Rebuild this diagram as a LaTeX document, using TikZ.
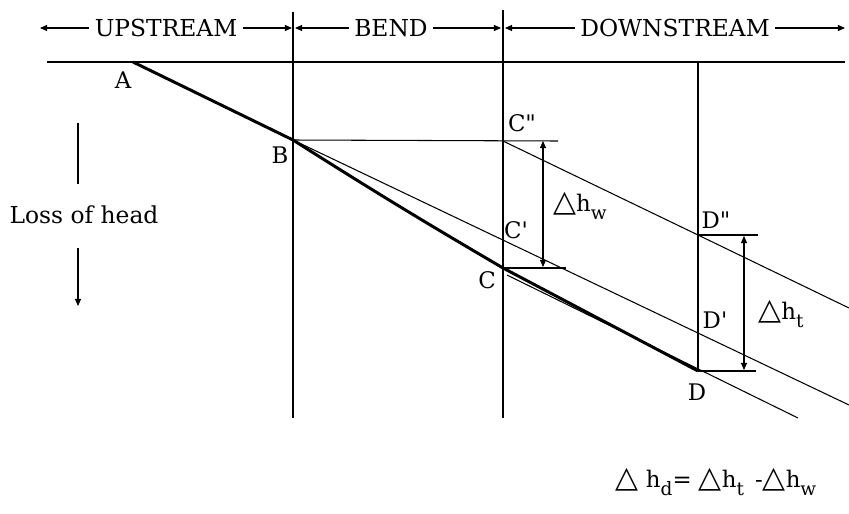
\documentclass[tikz,border=0pt]{standalone}
\usepackage{fontspec}
\setmainfont{DejaVu Serif}
\newfontfamily\trifont{DejaVu Sans}
\newcommand{\tri}{{\trifont\fontsize{17}{17}\selectfont △}}
\newcommand{\lowsub}[1]{\raisebox{-0.7ex}{\fontsize{10.5}{11}\selectfont #1}}
\usetikzlibrary{arrows.meta, positioning}

\begin{document}
\begin{tikzpicture}[
  x=0.02cm, y=-0.02cm,
  >={Triangle[length=4pt, width=3.4pt]},
  thinline/.style={line width=0.6pt},
  headline/.style={line width=1.7pt, line join=round},
  dimarrow/.style={line width=0.6pt, ->},
  seg/.style={font=\fontsize{13.3}{16}\selectfont, inner sep=3pt},
  ptlabel/.style={font=\fontsize{13}{15}\selectfont, inner sep=0pt},
]

% Page frame, same size as the reference
\useasboundingbox (0,0) rectangle (849,514);

% ============================================================
% Points on the energy line
% ============================================================
\coordinate (A) at (133,62);
\coordinate (B) at (293,140);
\coordinate (C) at (503,268);
\coordinate (D) at (698,371);
\coordinate (Cpp) at (503,141);
\coordinate (Dpp) at (698,235);

% ============================================================
% Reach headings across the top
% ============================================================
\node[seg] (up) at (166,28) {UPSTREAM};
\node[seg] (bend) at (391,28) {BEND};
\node[seg] (down) at (675,28) {DOWNSTREAM};
\coordinate (upL) at (40,28);
\coordinate (upR) at (292,28);
\coordinate (bendL) at (295,28);
\coordinate (bendR) at (501,28);
\coordinate (downL) at (505,28);
\coordinate (downR) at (845,28);
\draw[dimarrow] (up.west) -- (upL);
\draw[dimarrow] (up.east) -- (upR);
\draw[dimarrow] (bend.west) -- (bendL);
\draw[dimarrow] (bend.east) -- (bendR);
\draw[dimarrow] (down.west) -- (downL);
\draw[dimarrow] (down.east) -- (downR);

% Datum and section lines
\coordinate (topL) at (47,62);
\coordinate (topR) at (845,62);
\draw[thinline] (topL) -- (topR);
\coordinate (secBt) at (293,12);
\coordinate (secBb) at (293,418);
\coordinate (secCt) at (503,10);
\coordinate (secCb) at (503,418);
\coordinate (secDt) at (698,62);
\draw[thinline] (secBt) -- (secBb);
\draw[thinline] (secCt) -- (secCb);
\draw[thinline] (secDt) -- (D);

% ============================================================
% Head lines
% ============================================================
\draw[headline] (A) -- (B) to[bend right=1] (C) -- (D);

% straight continuation from B through C' and D'
\coordinate (bEnd) at (849,405);
\draw[thinline] (B) -- (bEnd);
% line from C'' through D''
\coordinate (cEnd) at (849,308);
\draw[thinline] (Cpp) -- (Dpp) -- (cEnd);
% lower line from C past D
\coordinate (lowS) at (507,275);
\coordinate (lowE) at (798,418);
\draw[thinline] (lowS) -- (lowE);

% ============================================================
% Head differences
% ============================================================
\coordinate (cppR) at (558,141);
\coordinate (cR) at (566,268);
\draw[thinline] (B) -- (cppR);
\draw[thinline] (C) -- (cR);
\coordinate (hwTop) at (543,141);
\coordinate (hwBot) at (543,267);
\draw[dimarrow, <->] (hwTop) -- (hwBot);
\node[ptlabel] (hw) at (580,206) {\tri h\lowsub{w}};

\coordinate (dppR) at (758,235);
\coordinate (dR) at (756,371);
\draw[thinline] (Dpp) -- (dppR);
\draw[thinline] (D) -- (dR);
\coordinate (htTop) at (744,236);
\coordinate (htBot) at (744,370);
\draw[dimarrow, <->] (htTop) -- (htBot);
\node[ptlabel] (ht) at (781,314) {\tri h\lowsub{t}};

% Point labels
\node[ptlabel] (labA) at (123,80) {A};
\node[ptlabel] (labB) at (280,155) {B};
\node[ptlabel] (labC) at (487,280) {C};
\node[ptlabel] (labD) at (697,392) {D};
\node[ptlabel] (labCpp) at (522,123) {C\textquotedbl};
\node[ptlabel] (labCp) at (516,230) {C\textquotesingle};
\node[ptlabel] (labDpp) at (716,220) {D\textquotedbl};
\node[ptlabel] (labDp) at (715,320) {D\textquotesingle};

% ============================================================
% Loss of head indicator
% ============================================================
\node[seg] (loss) at (84,215) {Loss of head};
\coordinate (lossTop) at (78,123);
\coordinate (lossUp) at (78,184);
\coordinate (lossDn) at (78,248);
\coordinate (lossBot) at (78,306);
\draw[thinline] (lossTop) -- (lossUp);
\draw[dimarrow] (lossDn) -- (lossBot);

% Relation at the bottom
\node[ptlabel] (rel) at (716,482)
  {\tri\ h\lowsub{d}= \tri h\lowsub{t}\ \,-\tri h\lowsub{w}};

\end{tikzpicture}
\end{document}
